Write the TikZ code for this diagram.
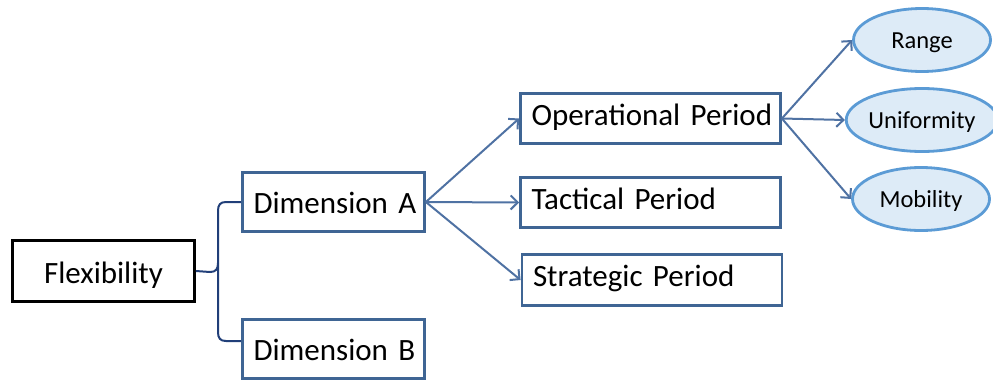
\documentclass[tikz,border=0pt]{standalone}
\usepackage{fontspec}
\setmainfont{Carlito}
\usetikzlibrary{arrows.meta,shapes.geometric,calc}
\definecolor{boxblue}{HTML}{3F6594}
\definecolor{arrowblue}{HTML}{4F72A3}
\definecolor{ellborder}{HTML}{5B9BD5}
\definecolor{ellfill}{HTML}{DDEBF7}
\definecolor{bracecol}{HTML}{213F79}
\tikzset{
  dimbox/.style={draw=boxblue, line width=2.8pt, minimum width=182pt, minimum height=59pt,
    inner xsep=11pt, inner ysep=0pt, text width=160pt, align=left,
    font=\fontsize{31}{36}\selectfont, text height=23pt, text depth=0pt},
  flexbox/.style={draw=black, line width=2.8pt, minimum width=182pt, minimum height=61pt,
    inner sep=0pt, align=center,
    font=\fontsize{31}{36}\selectfont, text height=24pt, text depth=0pt},
  perbox/.style={draw=boxblue, line width=2.8pt, minimum width=260pt, minimum height=50.5pt,
    inner xsep=11pt, inner ysep=0pt, text width=238pt, align=left,
    font=\fontsize{31}{36}\selectfont, text height=21pt, text depth=8pt},
  ellnode/.style={ellipse, draw=ellborder, fill=ellfill, line width=2.8pt,
    minimum width=137pt, minimum height=63pt, inner sep=0pt,
    font=\fontsize{24.5}{28}\selectfont, text height=16pt, text depth=0pt},
  arr/.style={draw=arrowblue, line width=2pt, -{Straight Barb[length=7pt,width=14pt,line width=2pt]}},
  bracel/.style={draw=bracecol, line width=2pt}
}
\begin{document}
\begin{tikzpicture}[x=1pt,y=-1pt]
\useasboundingbox (0,0) rectangle (993,380);
\clip (0,0) rectangle (993,380);
\node[flexbox] (flex) at (103.5,271) {Flexibility};
\node[dimbox] (dimA) at (333.5,202) {\mbox{Dimension A}};
\node[dimbox] (dimB) at (333.5,349) {\mbox{Dimension B}};
\node[perbox] (op) at (650.5,118.5) {\mbox{Operational Period}};
\node[perbox] (tac) at (650.5,202.5) {\mbox{Tactical Period}};
\node[perbox] (str) at (652,280) {\mbox{Strategic Period}};
\node[ellnode] (range) at (922,40) {Range};
\node[ellnode] (unif) at (922,120) {Uniformity};
\node[ellnode] (mob) at (921,199) {Mobility};
\coordinate (bEnd) at ($(dimB.west)+(0,-8)$);
% brace
\draw[bracel] (flex.east) -- (210,272) .. controls (216,272) and (218,269) .. (218,263)
  -- (218,211) .. controls (218,205) and (220,202) .. (226,202) -- (dimA.west);
\draw[bracel] (218,263) -- (218,332) .. controls (218,338) and (220,341) .. (226,341) -- (bEnd);
% arrows
\draw[arr] (dimA.east) -- (op.west);
\draw[arr] (dimA.east) -- (tac.west);
\draw[arr] (dimA.east) -- (str.west);
\draw[arr] (op.east) -- (range.west);
\draw[arr] (op.east) -- (unif.west);
\draw[arr] (op.east) -- (mob.west);
\end{tikzpicture}
\end{document}
